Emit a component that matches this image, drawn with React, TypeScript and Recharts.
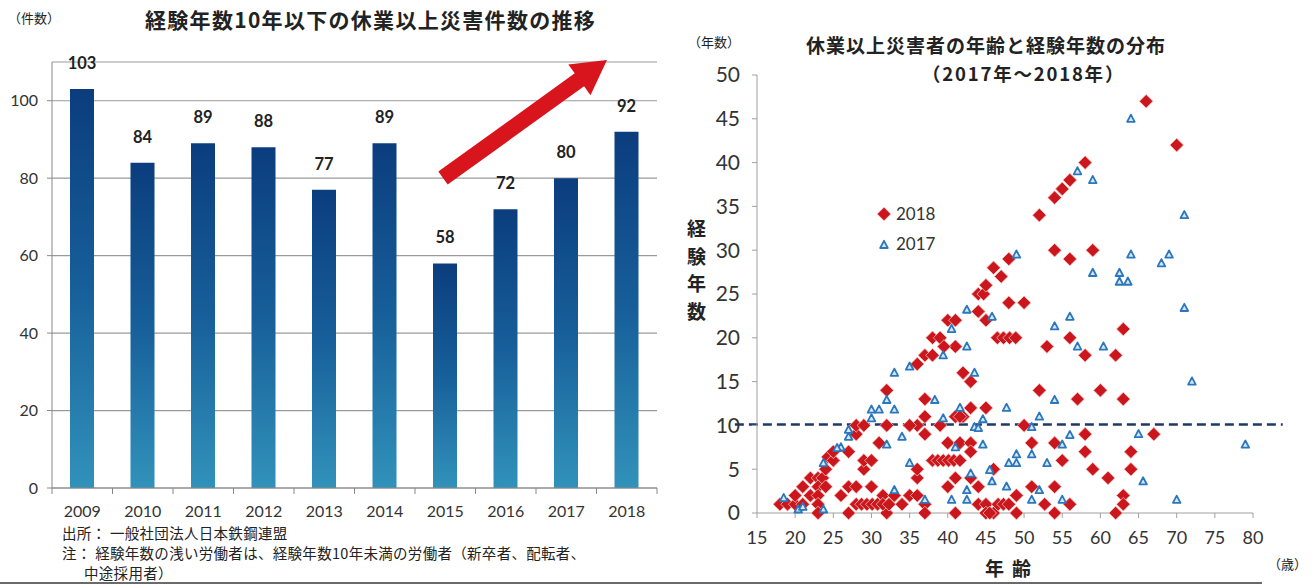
import React from "react";
import {
  BarChart,
  Bar,
  XAxis,
  YAxis,
  CartesianGrid,
  LabelList,
  ScatterChart,
  Scatter,
  ReferenceLine,
} from "recharts";

const JP = "'Noto Sans CJK JP', 'Noto Sans', sans-serif";
const NUM = "Lato, 'Noto Sans CJK JP', sans-serif";

// left chart: accidents by year (experience <= 10 years)
const years = ["2009", "2010", "2011", "2012", "2013", "2014", "2015", "2016", "2017", "2018"];
const counts = [103, 84, 89, 88, 77, 89, 58, 72, 80, 92];
const countTicks = [0, 20, 40, 60, 80, 100];

// right chart: [age, years of experience]
const ageTicks = [15, 20, 25, 30, 35, 40, 45, 50, 55, 60, 65, 70, 75, 80];
const expTicks = [0, 5, 10, 15, 20, 25, 30, 35, 40, 45, 50];
const threshold = 10.1;

const points2018: [number, number][] = [
  [18, 1], [19, 1], [20, 1], [21, 1], [20, 2], [21, 3], [22, 2], [22, 4], [23, 4], [23.6, 4],
  [23, 3], [24, 3], [23, 2], [23, 1], [23, 0], [24, 5], [24.3, 6.4], [25, 6], [25, 7], [26, 2],
  [27, 7], [27, 0], [27, 3], [28, 3], [28, 1], [28.7, 1], [29.4, 1], [30.1, 1], [30.8, 1], [30, 3],
  [29, 5], [29, 6], [30, 6], [31, 8], [28, 9], [28, 10], [29, 10], [32, 14], [32, 10], [32, 0],
  [31.5, 2], [33, 2], [31.5, 1], [32.3, 1], [34, 1], [35, 2], [36, 2], [36, 4], [36, 5], [37, 1],
  [37, 0], [36, 10], [35, 10], [37, 11], [37, 13], [37, 9], [39, 10], [40, 8], [41.6, 8], [43, 8],
  [38, 6], [38.7, 6], [39.4, 6], [40.1, 6], [40.8, 6], [41.6, 6], [43, 7], [40, 3], [41, 4], [43, 4],
  [44, 3], [41, 0], [44, 1], [45, 1], [46, 0], [45, 0], [46, 5], [42, 11], [41, 11], [41.6, 11],
  [43, 12], [45, 12], [36, 17], [37, 18], [38, 18], [38, 20], [39, 20], [40, 22], [41, 22], [41, 19],
  [39.5, 19], [42, 16], [43, 15], [44, 23], [45, 22], [44, 25], [44.7, 25], [45, 26], [46, 28], [47, 27],
  [48, 29], [48, 24], [50, 24], [46.5, 20], [47.3, 20], [48.1, 20], [48.9, 20], [52, 34], [54, 36], [55, 37],
  [56, 38], [58, 40], [54, 30], [56, 29], [59, 30], [66, 47], [70, 42], [56, 20], [63, 21], [53, 19],
  [58, 18], [62, 18], [52, 14], [60, 14], [57, 13], [63, 13], [50, 10], [51, 8], [54, 8], [58, 9],
  [58, 7], [55, 6], [59, 5], [61, 4], [64, 7], [64, 5], [67, 9], [51, 3], [54, 3], [49, 2],
  [63, 2], [52.7, 1], [54, 0], [56, 1], [49, 0], [63, 1], [62, 0], [46.6, 1], [47.3, 1], [48, 1],
  [45.5, 0],
];

const points2017: [number, number][] = [
  [64, 45], [57, 39], [59, 38], [71, 34], [64, 29.5], [69, 29.5], [68, 28.5], [59, 27.4], [62.5, 27.4], [62.5, 26.4],
  [63.6, 26.4], [71, 23.4], [56, 22.4], [49, 29.5], [54, 21.3], [57, 19], [60.4, 19], [72, 15], [54, 12.9], [47.7, 12],
  [52, 11], [51, 9.8], [56, 8.9], [55, 7.8], [65, 9], [79, 7.8], [51, 6.7], [49, 6.7], [48, 5.7], [49, 5.7],
  [53, 5.7], [65.6, 3.6], [52, 2.6], [51, 1.5], [55, 1.5], [70, 1.5], [45.8, 3.6], [42.5, 23.2], [45.8, 22.4], [42.5, 19],
  [39.4, 18], [40.5, 21], [43.5, 16], [33, 16], [38.3, 12.9], [32, 12.9], [33, 11.8], [30, 11.8], [31, 11.8], [30, 10.8],
  [39.4, 10.8], [44.6, 10.7], [43.5, 9.8], [34, 8.7], [32, 7.8], [41, 7.5], [44.6, 7.8], [35, 5.7], [43, 4.5], [42.5, 2.6],
  [42.5, 1.5], [40.5, 1.5], [37, 1.5], [33, 2.6], [27, 8.7], [26, 7.5], [27, 9.5], [23.7, 5.7], [20.4, 0.4], [23.7, 0.4],
  [35, 16.7], [25.5, 7.4], [21, 0.7], [18.5, 1.7], [41.6, 12], [44, 9.7], [45.5, 4.9], [47.7, 3],
];

const barData = years.map((year, i) => ({ year, count: counts[i] }));
const toPoints = (list: [number, number][]) => list.map(([age, exp]) => ({ age, exp }));

const RED = "#cc161e";
const BLUE = "#2b77bd";

function YearTick(props: any) {
  const { x, y, payload } = props;
  const half = 30.25;
  return (
    <g>
      <line x1={x - half} x2={x - half} y1={y - 18} y2={y - 12} stroke="#888" />
      {payload.index === years.length - 1 && (
        <line x1={x + half} x2={x + half} y1={y - 18} y2={y - 12} stroke="#888" />
      )}
      <text x={x} y={y} dy="0.71em" textAnchor="middle" fontSize={16} fill="#333" fontFamily={NUM}>
        {payload.value}
      </text>
    </g>
  );
}

function Diamond(props: any) {
  const { cx, cy } = props;
  const r = 6.8;
  return (
    <path
      d={`M${cx},${cy - r}L${cx + r},${cy}L${cx},${cy + r}L${cx - r},${cy}Z`}
      fill={RED}
      stroke="#f3c4bd"
      strokeWidth={0.8}
    />
  );
}

function Triangle(props: any) {
  const { cx, cy } = props;
  return (
    <path
      d={`M${cx},${cy - 4.2}L${cx + 3.8},${cy + 3}L${cx - 3.8},${cy + 3}Z`}
      fill="#d6e7f6"
      stroke={BLUE}
      strokeWidth={1.8}
      strokeLinejoin="round"
    />
  );
}

function ScatterLegend() {
  return (
    <div style={{ fontFamily: NUM, fontSize: 17, color: "#333", lineHeight: "30px" }}>
      <div style={{ display: "flex", alignItems: "center" }}>
        <svg width={16} height={16}>
          <Diamond cx={8} cy={8} />
        </svg>
        <span style={{ marginLeft: 4 }}>2018</span>
      </div>
      <div style={{ display: "flex", alignItems: "center" }}>
        <svg width={16} height={16}>
          <Triangle cx={8} cy={9} />
        </svg>
        <span style={{ marginLeft: 4 }}>2017</span>
      </div>
    </div>
  );
}

function arrowPoints(tx: number, ty: number, hx: number, hy: number) {
  const len = Math.hypot(hx - tx, hy - ty);
  const ux = (hx - tx) / len;
  const uy = (hy - ty) / len;
  const nx = -uy;
  const ny = ux;
  const bx = hx - ux * 34;
  const by = hy - uy * 34;
  const pts = [
    [tx + nx * 8, ty + ny * 8],
    [bx + nx * 8, by + ny * 8],
    [bx + nx * 19, by + ny * 19],
    [hx, hy],
    [bx - nx * 19, by - ny * 19],
    [bx - nx * 8, by - ny * 8],
    [tx - nx * 8, ty - ny * 8],
  ];
  return pts.map((p) => p.join(",")).join(" ");
}

const abs = (left: number, top: number, extra: React.CSSProperties = {}): React.CSSProperties => ({
  position: "absolute",
  left,
  top,
  whiteSpace: "nowrap",
  ...extra,
});

export default function App() {
  return (
    <div
      style={{
        position: "fixed",
        left: 0,
        top: 0,
        width: 1314,
        height: 586,
        background: "#fff",
        overflow: "hidden",
        color: "#222",
      }}
    >
      {/* left chart */}
      <div style={abs(0, 0)}>
        <BarChart width={670} height={586} data={barData} margin={{ top: 62, right: 13, left: 0, bottom: 0 }}>
          <defs>
            <linearGradient id="barGrad" x1="0" y1="0" x2="0" y2="1">
              <stop offset="0" stopColor="#0b3d7e" />
              <stop offset="0.5" stopColor="#175f9a" />
              <stop offset="1" stopColor="#3192ba" />
            </linearGradient>
          </defs>
          <CartesianGrid vertical={false} stroke="#9a9a9a" strokeWidth={1.2} />
          <XAxis
            dataKey="year"
            height={98}
            interval={0}
            axisLine={{ stroke: "#888" }}
            tickLine={false}
            tickSize={6}
            tickMargin={12}
            tick={<YearTick />}
          />
          <YAxis
            width={52}
            domain={[0, 110]}
            ticks={countTicks}
            axisLine={{ stroke: "#888" }}
            tickLine={{ stroke: "#888" }}
            tickSize={5}
            tickMargin={9}
            tick={{ fontSize: 16, fill: "#333", fontFamily: NUM }}
          />
          <Bar dataKey="count" fill="url(#barGrad)" barSize={24} isAnimationActive={false}>
            <LabelList
              dataKey="count"
              position="top"
              offset={20}
              style={{ fontSize: 16.5, fontWeight: 700, fill: "#222", fontFamily: NUM }}
            />
          </Bar>
        </BarChart>
      </div>

      <svg width={1314} height={586} style={{ position: "absolute", left: 0, top: 0, pointerEvents: "none" }}>
        <polygon points={arrowPoints(443, 178, 607, 60)} fill="#d8141d" />
      </svg>

      <div style={abs(8, 8, { fontFamily: JP, fontSize: 13 })}>（件数）</div>
      <div style={abs(145, 4, { fontFamily: JP, fontSize: 21, fontWeight: 700, letterSpacing: 1.3 })}>
        経験年数10年以下の休業以上災害件数の推移
      </div>
      <div style={abs(62, 523, { fontFamily: JP, fontSize: 14.5, lineHeight: "20px", letterSpacing: 0.3 })}>
        <div>出所：&nbsp;一般社団法人日本鉄鋼連盟</div>
        <div>注：&nbsp;経験年数の浅い労働者は、経験年数10年未満の労働者（新卒者、配転者、</div>
        <div style={{ paddingLeft: 22 }}>中途採用者）</div>
      </div>

      {/* right chart */}
      <div style={abs(680, 0)}>
        <ScatterChart width={634} height={586} margin={{ top: 75, right: 61, left: 0, bottom: 0 }}>
          <XAxis
            type="number"
            dataKey="age"
            domain={[15, 80]}
            ticks={ageTicks}
            height={73}
            axisLine={{ stroke: "#a0a0a0" }}
            tickLine={{ stroke: "#a0a0a0" }}
            tickSize={5}
            tickMargin={13}
            tick={{ fontSize: 18, fill: "#333", fontFamily: NUM }}
          />
          <YAxis
            type="number"
            dataKey="exp"
            domain={[0, 50]}
            ticks={expTicks}
            width={77}
            axisLine={{ stroke: "#a0a0a0" }}
            tickLine={{ stroke: "#a0a0a0" }}
            tickSize={5}
            tickMargin={12}
            tick={{ fontSize: 21, fill: "#333", fontFamily: NUM }}
          />
          <ReferenceLine
            segment={[
              { x: 12.1, y: threshold },
              { x: 83.9, y: threshold },
            ]}
            ifOverflow="visible"
            stroke="#1f3868"
            strokeWidth={2.6}
            strokeDasharray="9 5"
          />
          <Scatter name="2018" data={toPoints(points2018)} shape={<Diamond />} isAnimationActive={false} />
          <Scatter name="2017" data={toPoints(points2017)} shape={<Triangle />} isAnimationActive={false} />
        </ScatterChart>
      </div>

      <div style={abs(876, 199, { width: 80 })}>
        <ScatterLegend />
      </div>

      <div style={abs(688, 32, { fontFamily: JP, fontSize: 13 })}>（年数）</div>
      <div style={abs(806, 31, { fontFamily: JP, fontSize: 19, fontWeight: 700, letterSpacing: 1 })}>
        休業以上災害者の年齢と経験年数の分布
      </div>
      <div style={abs(922, 60, { fontFamily: JP, fontSize: 18.5, fontWeight: 700, letterSpacing: 1.8 })}>
        （2017年～2018年）
      </div>
      <div
        style={abs(687, 214, {
          fontFamily: JP,
          fontSize: 19,
          fontWeight: 700,
          lineHeight: "27.5px",
          width: 20,
          whiteSpace: "normal",
        })}
      >
        経<br />験<br />年<br />数
      </div>
      <div style={abs(985, 554, { fontFamily: JP, fontSize: 19, fontWeight: 700, letterSpacing: 8 })}>年齢</div>
      <div style={abs(1268, 554, { fontFamily: JP, fontSize: 13 })}>（歳）</div>

      <div style={abs(0, 582, { width: 1262, height: 2, background: "#6a6a6a" })} />
    </div>
  );
}
